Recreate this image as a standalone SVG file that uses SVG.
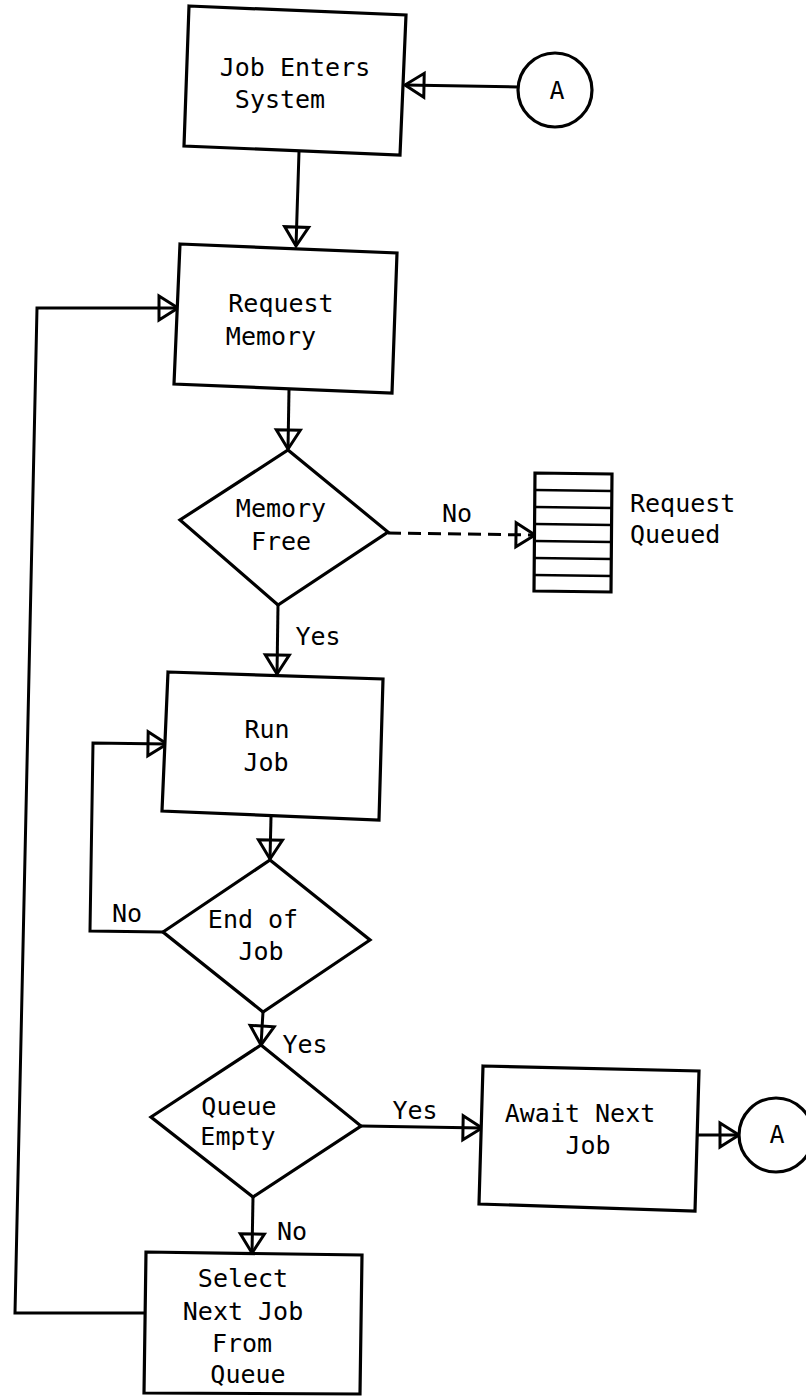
<svg xmlns="http://www.w3.org/2000/svg" width="806" height="1397" viewBox="0 0 806 1397">
<style>
  .shape { fill: #ffffff; stroke: #000000; stroke-width: 3.2; stroke-linejoin: miter; }
  .conn { fill: none; stroke: #000000; stroke-width: 3; }
  .dash { stroke-dasharray: 13 7; }
  .t { font-family: "DejaVu Sans Mono", "Liberation Mono", monospace; font-size: 25px; fill: #000000; text-anchor: middle; }
  .ts { text-anchor: start; }
  .thin { stroke-width: 2.5; }
</style>
<defs>
  <marker id="arr" viewBox="-3 -16 26 32" markerWidth="26" markerHeight="32" refX="19" refY="0" orient="auto" markerUnits="userSpaceOnUse">
    <path d="M0,-12 L19,0 L0,12 Z" fill="none" stroke="#000000" stroke-width="3" stroke-linejoin="miter"/>
  </marker>
</defs>
<rect x="0" y="0" width="806" height="1397" fill="#ffffff"/>

<g id="connectors">
  <line class="conn" x1="518" y1="87" x2="405" y2="85" marker-end="url(#arr)"/>
  <line class="conn" x1="299" y1="152" x2="296" y2="246" marker-end="url(#arr)"/>
  <line class="conn" x1="289" y1="390" x2="288" y2="449" marker-end="url(#arr)"/>
  <line class="conn dash" x1="388" y1="533" x2="535" y2="535" marker-end="url(#arr)"/>
  <line class="conn" x1="278" y1="605" x2="277" y2="674" marker-end="url(#arr)"/>
  <line class="conn" x1="271" y1="817" x2="270" y2="859" marker-end="url(#arr)"/>
  <polyline class="conn" points="163,932 90,931 93,743 167,744" marker-end="url(#arr)"/>
  <line class="conn" x1="263" y1="1012" x2="261" y2="1045" marker-end="url(#arr)"/>
  <line class="conn" x1="361" y1="1126" x2="482" y2="1128" marker-end="url(#arr)"/>
  <line class="conn" x1="697" y1="1135" x2="739" y2="1135" marker-end="url(#arr)"/>
  <line class="conn" x1="253" y1="1197" x2="252" y2="1253" marker-end="url(#arr)"/>
  <polyline class="conn" points="145,1313 15,1313 37,308 178,308" marker-end="url(#arr)"/>

  <text class="t" x="457" y="522">No</text>
  <text class="t" x="318" y="645">Yes</text>
  <text class="t" x="127" y="922">No</text>
  <text class="t" x="305" y="1053">Yes</text>
  <text class="t" x="415" y="1119">Yes</text>
  <text class="t" x="292" y="1240">No</text>
</g>

<g id="node-job-enters">
  <polygon class="shape" points="189,6 406,15 400,155 184,146"/>
  <text class="t" x="295" y="76">Job Enters</text>
  <text class="t" x="280" y="108">System</text>
</g>

<g id="node-connector-a-top">
  <circle class="shape" cx="555" cy="90" r="37"/>
  <text class="t" x="557" y="99">A</text>
</g>

<g id="node-request-memory">
  <polygon class="shape" points="180,244 397,253 392,393 174,384"/>
  <text class="t" x="281" y="312">Request</text>
  <text class="t" x="271" y="345">Memory</text>
</g>

<g id="node-memory-free">
  <polygon class="shape" points="288,450 388,532 278,605 180,520"/>
  <text class="t" x="281" y="517">Memory</text>
  <text class="t" x="281" y="550">Free</text>
</g>

<g id="node-request-queued">
  <polygon class="shape" points="535,473 612,474 611,592 534,591"/>
  <g class="conn thin">
    <line x1="535" y1="490" x2="612" y2="491"/>
    <line x1="535" y1="507" x2="612" y2="508"/>
    <line x1="535" y1="524" x2="612" y2="525"/>
    <line x1="535" y1="541" x2="611" y2="542"/>
    <line x1="534" y1="558" x2="611" y2="559"/>
    <line x1="534" y1="575" x2="611" y2="576"/>
  </g>
  <text class="t ts" x="630" y="512">Request</text>
  <text class="t ts" x="630" y="543">Queued</text>
</g>

<g id="node-run-job">
  <polygon class="shape" points="168,672 383,679 379,820 162,811"/>
  <text class="t" x="267" y="738">Run</text>
  <text class="t" x="266" y="771">Job</text>
</g>

<g id="node-end-of-job">
  <polygon class="shape" points="270,860 370,940 263,1012 163,932"/>
  <text class="t" x="253" y="928">End of</text>
  <text class="t" x="261" y="960">Job</text>
</g>

<g id="node-queue-empty">
  <polygon class="shape" points="261,1045 361,1126 253,1197 151,1117"/>
  <text class="t" x="239" y="1115">Queue</text>
  <text class="t" x="238" y="1145">Empty</text>
</g>

<g id="node-await-next-job">
  <polygon class="shape" points="483,1066 699,1071 695,1211 479,1204"/>
  <text class="t" x="580" y="1122">Await Next</text>
  <text class="t" x="588" y="1154">Job</text>
</g>

<g id="node-connector-a-bottom">
  <circle class="shape" cx="776" cy="1135" r="37"/>
  <text class="t" x="777" y="1143">A</text>
</g>

<g id="node-select-next-job">
  <polygon class="shape" points="146,1252 362,1255 360,1394 144,1393"/>
  <text class="t" x="243" y="1287">Select</text>
  <text class="t" x="243" y="1320">Next Job</text>
  <text class="t" x="242" y="1352">From</text>
  <text class="t" x="248" y="1383">Queue</text>
</g>
</svg>
